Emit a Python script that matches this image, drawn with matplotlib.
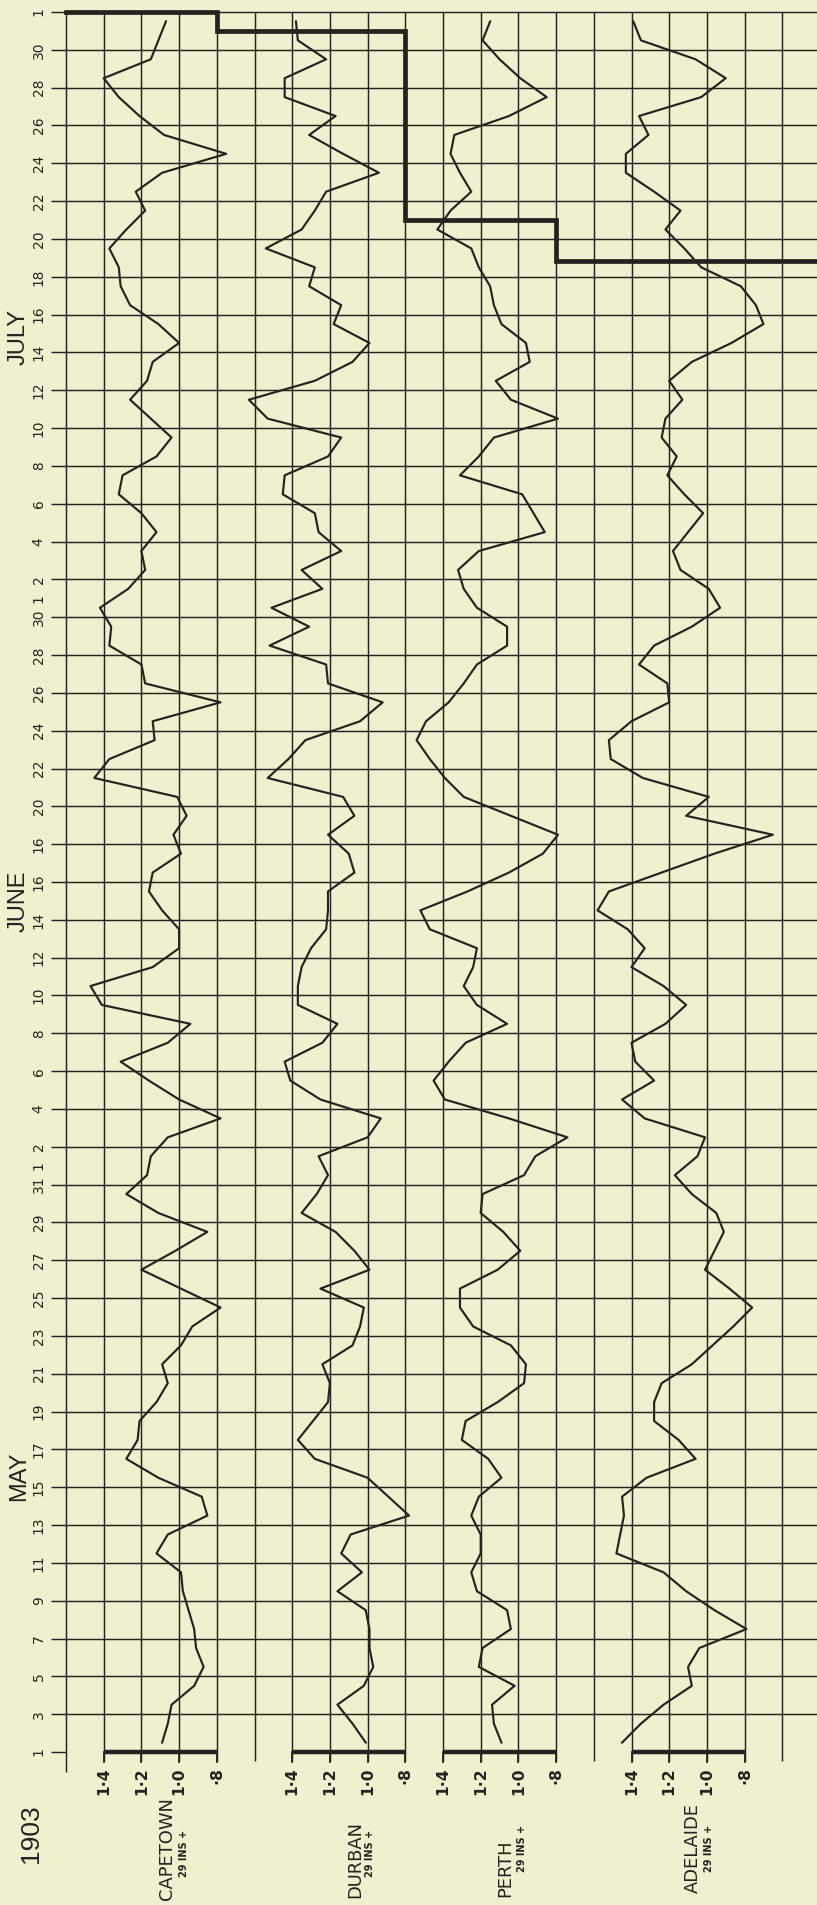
import numpy as np
import pandas as pd
import matplotlib
matplotlib.use("Agg")
import matplotlib.pyplot as plt
from matplotlib import font_manager as fm

# ---------------------------------------------------------------------------
# Daily barometer readings, 1 May - 31 July 1903, in inches above 29
# ---------------------------------------------------------------------------
start = pd.Timestamp("1903-05-01")
end = pd.Timestamp("1903-08-01")
reading_dates = pd.date_range("1903-05-01", "1903-07-31", freq="D")

capetown = [1.09, 1.06, 1.04, 0.92, 0.87, 0.91, 0.92, 0.95, 0.98, 0.99,
            1.12, 1.06, 0.85, 0.88, 1.11, 1.28, 1.22, 1.21, 1.12, 1.06,
            1.09, 0.99, 0.93, 0.78, 0.99, 1.20, 1.02, 0.85, 1.11, 1.28, 1.17,
            1.15, 1.06, 0.78, 1.00, 1.16, 1.31, 1.06, 0.94, 1.41, 1.47,
            1.14, 1.00, 1.00, 1.09, 1.16, 1.14, 0.99, 1.03, 0.96, 1.01,
            1.45, 1.37, 1.13, 1.14, 0.78, 1.18, 1.20, 1.37, 1.36, 1.42,
            1.27, 1.18, 1.20, 1.12, 1.20, 1.32, 1.30, 1.12, 1.04, 1.15,
            1.26, 1.17, 1.14, 1.00, 1.11, 1.26, 1.31, 1.32, 1.37, 1.28,
            1.18, 1.23, 1.09, 0.75, 1.08, 1.21, 1.32, 1.40, 1.15, 1.11, 1.07]

durban = [1.01, 1.08, 1.16, 1.02, 0.97, 0.99, 0.99, 1.01, 1.16, 1.03,
          1.14, 1.09, 0.78, 0.89, 1.00, 1.28, 1.37, 1.29, 1.21, 1.20,
          1.24, 1.08, 1.04, 1.02, 1.25, 0.99, 1.07, 1.17, 1.35, 1.27, 1.21,
          1.26, 1.00, 0.93, 1.25, 1.41, 1.44, 1.24, 1.16, 1.37, 1.37,
          1.35, 1.30, 1.22, 1.21, 1.21, 1.07, 1.10, 1.21, 1.07, 1.13,
          1.53, 1.42, 1.33, 1.04, 0.92, 1.21, 1.22, 1.52, 1.31, 1.51,
          1.24, 1.35, 1.14, 1.26, 1.28, 1.45, 1.44, 1.21, 1.14, 1.53,
          1.63, 1.28, 1.08, 0.99, 1.18, 1.14, 1.31, 1.28, 1.54, 1.35,
          1.28, 1.22, 0.94, 1.13, 1.31, 1.17, 1.44, 1.44, 1.22, 1.37, 1.38]

perth = [1.09, 1.13, 1.14, 1.02, 1.21, 1.19, 1.04, 1.06, 1.22, 1.25,
         1.20, 1.20, 1.25, 1.21, 1.09, 1.16, 1.30, 1.28, 1.11, 0.97,
         0.96, 1.04, 1.24, 1.31, 1.31, 1.11, 0.99, 1.08, 1.20, 1.19, 0.97,
         0.91, 0.74, 1.05, 1.39, 1.45, 1.37, 1.28, 1.06, 1.22, 1.29,
         1.24, 1.22, 1.47, 1.52, 1.27, 1.05, 0.87, 0.79, 1.04, 1.29,
         1.39, 1.47, 1.54, 1.49, 1.37, 1.29, 1.22, 1.06, 1.06, 1.22,
         1.29, 1.32, 1.21, 0.86, 0.92, 0.98, 1.31, 1.21, 1.13, 0.79,
         1.04, 1.12, 0.94, 0.96, 1.09, 1.13, 1.15, 1.21, 1.25, 1.43,
         1.36, 1.25, 1.31, 1.36, 1.34, 1.05, 0.85, 0.99, 1.10, 1.19, 1.15]

adelaide = [1.45, 1.35, 1.23, 1.08, 1.10, 1.04, 0.79, 0.96, 1.11, 1.23,
            1.48, 1.46, 1.44, 1.45, 1.32, 1.06, 1.15, 1.28, 1.28, 1.24,
            1.08, 0.97, 0.86, 0.76, 0.88, 1.01, 0.96, 0.91, 0.95, 1.08, 1.17,
            1.05, 1.01, 1.33, 1.45, 1.28, 1.38, 1.40, 1.22, 1.11, 1.23,
            1.40, 1.33, 1.42, 1.58, 1.52, 1.24, 0.96, 0.65, 1.11, 0.99,
            1.34, 1.51, 1.52, 1.40, 1.20, 1.21, 1.36, 1.28, 1.08, 0.93,
            0.99, 1.14, 1.18, 1.10, 1.02, 1.12, 1.21, 1.16, 1.24, 1.22,
            1.13, 1.20, 1.08, 0.87, 0.70, 0.74, 0.82, 1.03, 1.12, 1.22,
            1.14, 1.28, 1.43, 1.43, 1.31, 1.36, 1.03, 0.90, 1.06, 1.35, 1.39]

station_names = ["CAPETOWN", "DURBAN", "PERTH", "ADELAIDE"]
station_unit = "29 INS +"
scale_values = [1.4, 1.2, 1.0, 0.8]
scale_labels = ["1·4", "1·2", "1·0", "·8"]

# calendar ruling: a line every second day
grid_dates = pd.date_range(start, end, freq="2D")
grid_labels = ["1", "3", "5", "7", "9", "11", "13", "15", "17", "19", "21",
               "23", "25", "27", "29", "31",
               "2", "4", "6", "8", "10", "12", "14", "16", "16", "20", "22",
               "24", "26", "28", "30",
               "2", "4", "6", "8", "10", "12", "14", "16", "18", "20", "22",
               "24", "26", "28", "30",
               "1"]
extra_label_dates = [pd.Timestamp("1903-06-01"), pd.Timestamp("1903-07-01")]
extra_labels = ["1", "1"]
month_names = ["MAY", "JUNE", "JULY"]
month_days = [14.6, 45.0, 74.8]
year_label = "1903"

# heavy boundary line corners (day values)
boundary_days = [92, 92, 91, 91, 81, 81, 78.85, 78.85]

# ---------------------------------------------------------------------------
# Styling / layout
# ---------------------------------------------------------------------------
ink = "#26221d"
paper = "#eef0cf"


def pick_font(*names):
    for n in names:
        try:
            fm.findfont(fm.FontProperties(family=n), fallback_to_default=False)
            return n
        except Exception:
            continue
    return "DejaVu Sans"


NARROW = pick_font("Liberation Sans Narrow", "DejaVu Sans Condensed",
                   "DejaVu Sans")
REGULAR = pick_font("Liberation Sans", "DejaVu Sans")
if "Narrow" in NARROW:
    fk = 1.0
elif "Condensed" in NARROW:
    fk = 0.95
else:
    fk = 0.86

W_PX, H_PX = 817, 1905
X0, COL = 66.0, 37.7          # left ruled line and column width (px)
TOP, BOT = 12.0, 1752.0       # 1 Aug and 1 May lines (px)
ncols = (W_PX - X0) / COL
total_days = (end - start).days
scale_step = 0.2               # inches per ruled column
scale_cols = [1, 6, 10, 15]    # column carrying the 1.4 mark for each station

fig = plt.figure(figsize=(W_PX / 100, H_PX / 100), dpi=100, facecolor=paper)
rect = [X0 / W_PX, 1 - BOT / H_PX, (W_PX - X0) / W_PX, (BOT - TOP) / H_PX]

ax = fig.add_axes(rect, label="grid")
ax.set_xlim(0, ncols)
ax.set_ylim(0, total_days)
ax.axis("off")

grid_t = np.array([(d - start).days for d in grid_dates])
ax.hlines(grid_t[1:], -0.4, ncols, color=ink, lw=1.05, clip_on=False)
ax.hlines([grid_t[0]], -0.4, 0, color=ink, lw=1.05, clip_on=False)
cols = np.arange(0, int(ncols) + 1)
ax.vlines(cols[1:], -0.5, total_days, color=ink, lw=1.05, clip_on=False)
ax.vlines([0], -1.05, total_days, color=ink, lw=1.05, clip_on=False)

for t, lab in zip(grid_t, grid_labels):
    ax.text(-0.72, t, lab, rotation=90, ha="center", va="center",
            fontsize=11.5 * fk, family=NARROW, color=ink)
for d, lab in zip(extra_label_dates, extra_labels):
    ax.text(-0.72, (d - start).days, lab, rotation=90, ha="center",
            va="center", fontsize=11.5 * fk, family=NARROW, color=ink)
for t, lab in zip(month_days, month_names):
    ax.text(-1.25, t, lab, rotation=90, ha="center", va="center",
            fontsize=17, family=REGULAR, color=ink)

bx = [0, 4, 4, 9, 9, 13, 13, ncols]
ax.plot(bx, boundary_days, color=ink, lw=3.4, solid_joinstyle="miter",
        solid_capstyle="projecting", clip_on=False, zorder=4)

reading_t = np.array([(d - start).days for d in reading_dates]) + 0.5
series = [capetown, durban, perth, adelaide]

for name, vals, c0 in zip(station_names, series, scale_cols):
    sax = fig.add_axes(rect, label=name)
    sax.set_xlim(1.4 + scale_step * c0, 1.4 - scale_step * (ncols - c0))
    sax.set_ylim(0, total_days)
    sax.axis("off")
    sax.plot(vals, reading_t, color=ink, lw=1.55, zorder=3)
    sax.plot([scale_values[0], scale_values[-1]], [0, 0], color=ink, lw=3.2,
             solid_capstyle="butt", clip_on=False)
    for v, lab in zip(scale_values, scale_labels):
        sax.plot([v, v], [0, -0.55], color=ink, lw=1.3, clip_on=False)
        sax.text(v, -0.8, lab, rotation=90, ha="center", va="top",
                 fontsize=13 * fk, fontweight="bold", family=NARROW,
                 color=ink)

# station captions below the scales
name_px = [(167, 1900), (355, 1898), (505, 1897), (693, 1893)]
unit_px = [(184, 1877), (370, 1877), (522, 1872), (709, 1872)]
for name, (x, y), (ux, uy) in zip(station_names, name_px, unit_px):
    fig.text(x / W_PX, 1 - y / H_PX, name, rotation=90, ha="center",
             va="bottom", fontsize=15 * fk, family=NARROW, color=ink)
    fig.text(ux / W_PX, 1 - uy / H_PX, station_unit, rotation=90,
             ha="center", va="bottom", fontsize=7, fontweight="bold",
             family="DejaVu Sans", color=ink)

fig.text(31 / W_PX, 1 - 1834 / H_PX, year_label, rotation=90, ha="center",
         va="center", fontsize=19, family=REGULAR, color=ink)

fig.savefig("out.png", dpi=100, facecolor=paper)
